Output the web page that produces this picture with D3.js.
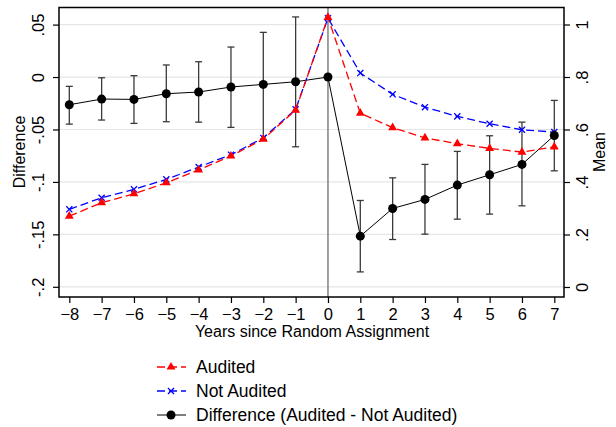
<!DOCTYPE html>
<html>
<head>
<meta charset="utf-8">
<script src="https://cdn.jsdelivr.net/npm/d3@7"></script>
<style>
  body { margin: 0; background: #fff; }
  text { font-family: "Liberation Sans", Arial, Helvetica, sans-serif; }
</style>
</head>
<body>
<svg id="chart" width="616" height="427"></svg>
<script>
// years since random assignment
var years = [-8, -7, -6, -5, -4, -3, -2, -1, 0, 1, 2, 3, 4, 5, 6, 7];

// means (right axis)
var audited    = [0.270, 0.321, 0.355, 0.397, 0.446, 0.499, 0.563, 0.674, 1.027, 0.662, 0.607, 0.568, 0.546, 0.528, 0.514, 0.534];
var notAudited = [0.296, 0.340, 0.372, 0.410, 0.457, 0.504, 0.568, 0.677, 1.024, 0.815, 0.734, 0.685, 0.650, 0.622, 0.599, 0.590];

// difference and confidence interval (left axis)
var diff   = [-0.0264, -0.0210, -0.0213, -0.0159, -0.0143, -0.0095, -0.0070, -0.0045, 0, -0.1517, -0.1253, -0.1167, -0.1030, -0.0932, -0.0833, -0.0557];
var ciHigh = [-0.0089, -0.0007, 0.0013, 0.0115, 0.0146, 0.0286, 0.0426, 0.0573, 0, -0.1177, -0.0961, -0.0833, -0.0709, -0.0560, -0.0430, -0.0223];
var ciLow  = [-0.0449, -0.0410, -0.0442, -0.0426, -0.0430, -0.0480, -0.0595, -0.0665, 0, -0.1858, -0.1549, -0.1498, -0.1355, -0.1307, -0.1228, -0.0894];

var leftTicks  = [0.05, 0, -0.05, -0.1, -0.15, -0.2];
var leftLabels = [".05", "0", "-.05", "-.1", "-.15", "-.2"];
var rightTicks  = [0, 0.2, 0.4, 0.6, 0.8, 1];
var rightLabels = ["0", ".2", ".4", ".6", ".8", "1"];

var legendNames = ["Audited", "Not Audited", "Difference (Audited - Not Audited)"];

var svg = d3.select("#chart");

var box = { left: 59, right: 564, top: 7.5, bottom: 297 };

var x  = d3.scaleLinear().domain([-8, 7]).range([69.3, 554.3]);
var yL = d3.scaleLinear().domain([-0.2, 0.05]).range([286.8, 24.6]);
var yR = d3.scaleLinear().domain([0, 1]).range([287, 24.5]);

// gridlines
svg.append("g").selectAll("line")
  .data(leftTicks)
  .enter().append("line")
  .attr("x1", box.left).attr("x2", box.right)
  .attr("y1", d => yL(d)).attr("y2", d => yL(d))
  .attr("stroke", "#e6e6e6").attr("stroke-width", 1.2);

// line at year 0
svg.append("line")
  .attr("x1", x(0)).attr("x2", x(0))
  .attr("y1", box.top).attr("y2", box.bottom)
  .attr("stroke", "#777").attr("stroke-width", 1.4);

// axes
var fmtL = d => leftLabels[leftTicks.indexOf(d)];
var fmtR = d => rightLabels[rightTicks.indexOf(d)];

var axL = svg.append("g")
  .attr("transform", "translate(" + box.left + ",0)")
  .call(d3.axisLeft(yL).tickValues(leftTicks).tickFormat(fmtL).tickSize(6).tickSizeOuter(0));
axL.selectAll("text")
  .attr("x", null).attr("dy", null)
  .attr("transform", "translate(-15,0) rotate(-90)")
  .attr("text-anchor", "middle");

var axR = svg.append("g")
  .attr("transform", "translate(" + box.right + ",0)")
  .call(d3.axisRight(yR).tickValues(rightTicks).tickFormat(fmtR).tickSize(6).tickSizeOuter(0));
axR.selectAll("text")
  .attr("x", null).attr("dy", null)
  .attr("transform", "translate(24,0) rotate(-90)")
  .attr("text-anchor", "middle");

var axB = svg.append("g")
  .attr("transform", "translate(0," + box.bottom + ")")
  .call(d3.axisBottom(x).tickValues(years).tickFormat(d3.format("d")).tickSize(6).tickSizeOuter(0));
axB.selectAll("text").attr("y", 22.5).attr("dy", null);

[axL, axR, axB].forEach(function(a) {
  a.select(".domain").remove();
  a.selectAll("line").attr("stroke", "#000").attr("stroke-width", 1.2);
  a.selectAll("text").attr("font-size", 16.5).attr("fill", "#000")
    .style("font-family", '"Liberation Sans", Arial, sans-serif');
});

// frame
svg.append("rect")
  .attr("x", box.left).attr("y", box.top)
  .attr("width", box.right - box.left).attr("height", box.bottom - box.top)
  .attr("fill", "none").attr("stroke", "#000").attr("stroke-width", 1.5);

// axis titles
svg.append("text")
  .attr("x", 312).attr("y", 337)
  .attr("text-anchor", "middle").attr("font-size", 16)
  .text("Years since Random Assignment");

svg.append("text")
  .attr("transform", "translate(25,152) rotate(-90)")
  .attr("text-anchor", "middle").attr("font-size", 16)
  .text("Difference");

svg.append("text")
  .attr("transform", "translate(605,152) rotate(-90)")
  .attr("text-anchor", "middle").attr("font-size", 16)
  .text("Mean");

// error bars
var ci = years.map((d, i) => ({ yr: d, lo: ciLow[i], hi: ciHigh[i] })).filter(d => d.hi !== d.lo);
var eb = svg.append("g").attr("stroke", "#3a3a3a").attr("stroke-width", 1.3);
eb.selectAll(".v").data(ci).enter().append("line")
  .attr("x1", d => x(d.yr)).attr("x2", d => x(d.yr))
  .attr("y1", d => yL(d.lo)).attr("y2", d => yL(d.hi));
eb.selectAll(".t").data(ci).enter().append("line")
  .attr("x1", d => x(d.yr) - 3.5).attr("x2", d => x(d.yr) + 3.5)
  .attr("y1", d => yL(d.hi)).attr("y2", d => yL(d.hi));
eb.selectAll(".b").data(ci).enter().append("line")
  .attr("x1", d => x(d.yr) - 3.5).attr("x2", d => x(d.yr) + 3.5)
  .attr("y1", d => yL(d.lo)).attr("y2", d => yL(d.lo));

// difference line
var lineL = d3.line().x((d, i) => x(years[i])).y(d => yL(d));
svg.append("path").datum(diff)
  .attr("d", lineL).attr("fill", "none")
  .attr("stroke", "#000").attr("stroke-width", 1);

// mean lines
var lineR = d3.line().x((d, i) => x(years[i])).y(d => yR(d));
svg.append("path").datum(notAudited)
  .attr("d", lineR).attr("fill", "none")
  .attr("stroke", "#0000ff").attr("stroke-width", 1.3)
  .attr("stroke-dasharray", "8,4");
svg.append("path").datum(audited)
  .attr("d", lineR).attr("fill", "none")
  .attr("stroke", "#ff0000").attr("stroke-width", 1.3)
  .attr("stroke-dasharray", "8,4");

// markers
var tri = d3.symbol().type(d3.symbolTriangle).size(34);
var cross = d3.symbol().type(d3.symbolX).size(26);

function xMark(g) {
  g.attr("fill", "none").attr("stroke", "#0000ff").attr("stroke-width", 1.3);
}

svg.append("g").selectAll("path")
  .data(notAudited).enter().append("path")
  .attr("d", cross)
  .attr("transform", (d, i) => "translate(" + x(years[i]) + "," + yR(d) + ")")
  .call(xMark);

svg.append("g").selectAll("path")
  .data(audited).enter().append("path")
  .attr("d", tri)
  .attr("transform", (d, i) => "translate(" + x(years[i]) + "," + yR(d) + ")")
  .attr("fill", "#ff0000");

svg.append("g").selectAll("circle")
  .data(diff).enter().append("circle")
  .attr("cx", (d, i) => x(years[i]))
  .attr("cy", d => yL(d))
  .attr("r", 4.5)
  .attr("fill", "#000");

// legend
var leg = svg.append("g");
var rowY = [373, 397, 421];
var styles = [
  { color: "#ff0000", dash: "8,4" },
  { color: "#0000ff", dash: "8,4" },
  { color: "#000", dash: null }
];
legendNames.forEach(function(name, i) {
  var cy = rowY[i] - 6;
  leg.append("line")
    .attr("x1", 157).attr("x2", 186)
    .attr("y1", cy).attr("y2", cy)
    .attr("stroke", styles[i].color)
    .attr("stroke-width", i === 2 ? 1 : 1.3)
    .attr("stroke-dasharray", styles[i].dash);
  var m;
  if (i === 0) {
    m = leg.append("path").attr("d", tri).attr("fill", "#ff0000");
  } else if (i === 1) {
    m = leg.append("path").attr("d", cross).call(xMark);
  } else {
    m = leg.append("path").attr("d", d3.symbol().type(d3.symbolCircle).size(64)).attr("fill", "#000");
  }
  m.attr("transform", "translate(171," + cy + ")");
  leg.append("text")
    .attr("x", 196).attr("y", rowY[i])
    .attr("font-size", 17.5)
    .text(name);
});
</script>
</body>
</html>
